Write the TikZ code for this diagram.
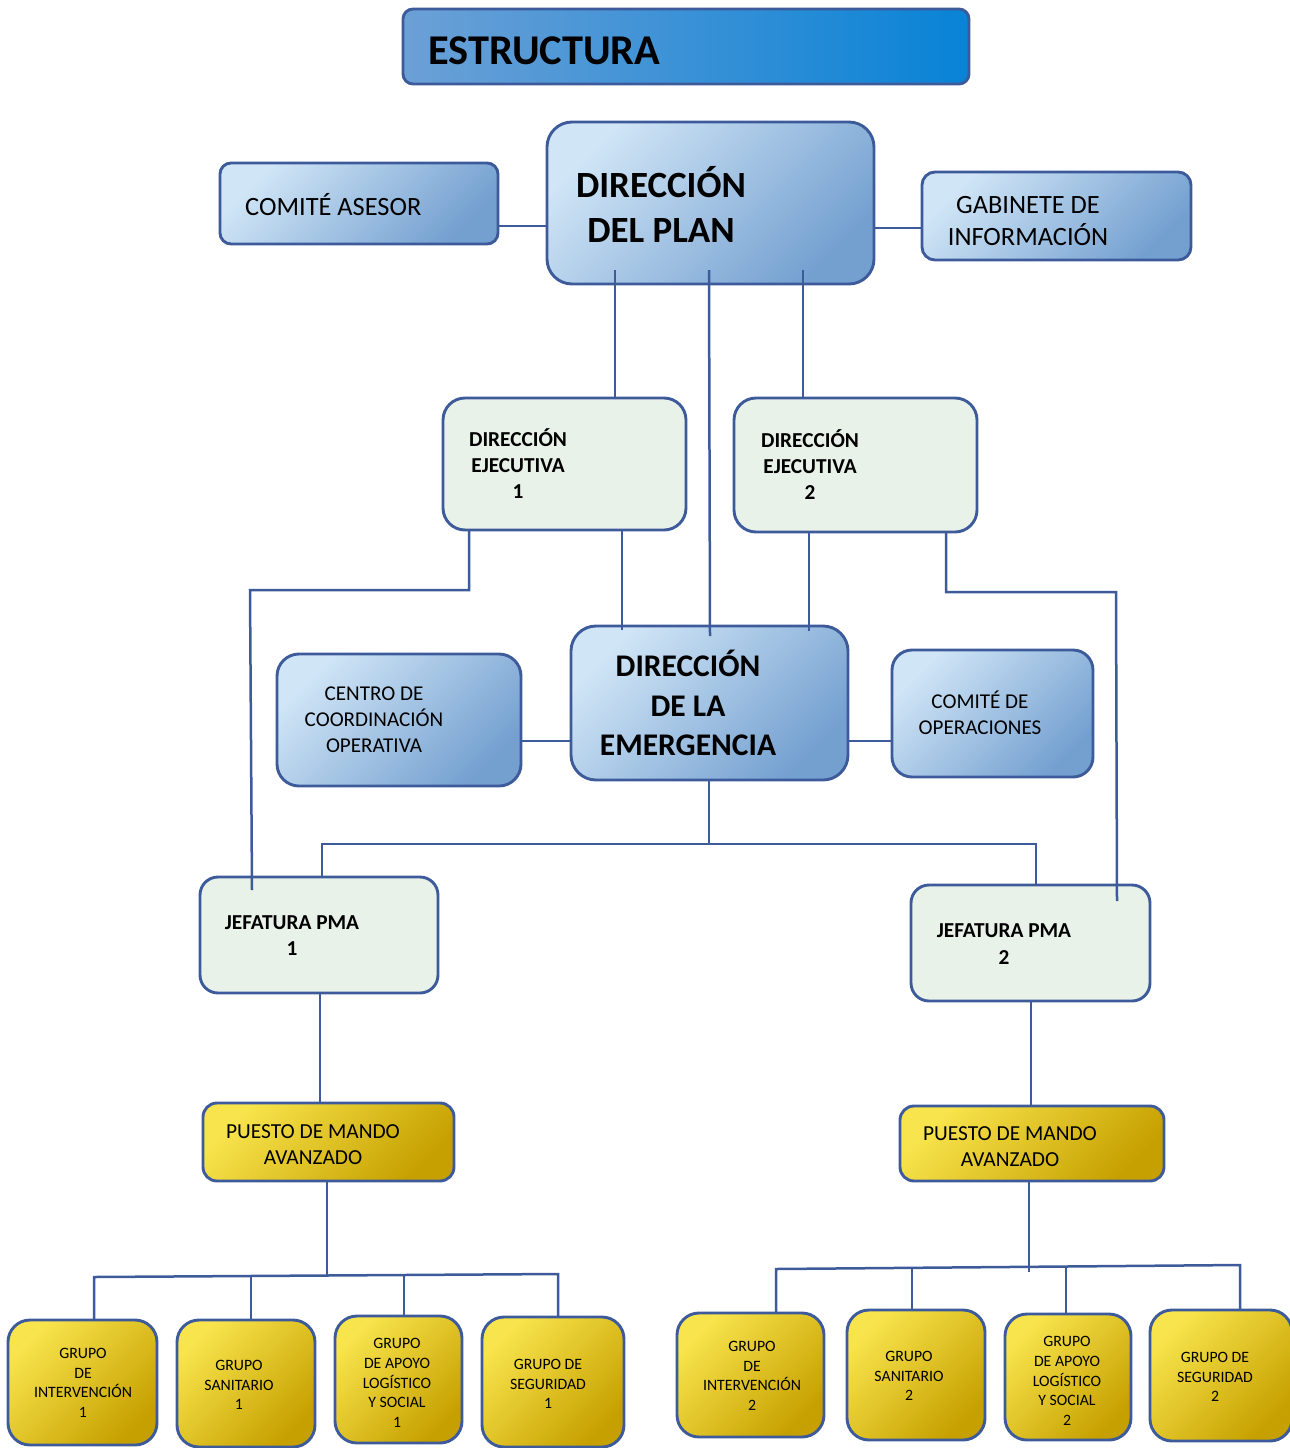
\documentclass[tikz,border=0pt]{standalone}
\usepackage{fontspec}
\setmainfont{Carlito}
\usetikzlibrary{calc}
\definecolor{bordercol}{HTML}{3D5B9B}
\definecolor{blueL}{HTML}{D0E5F6}
\definecolor{blueD}{HTML}{74A0D0}
\definecolor{titleL}{HTML}{6CA0D6}
\definecolor{titleR}{HTML}{0883D6}
\definecolor{greenF}{HTML}{E9F2E8}
\definecolor{yelL}{HTML}{F8E44C}
\definecolor{yelD}{HTML}{C6A000}
\newcommand\mybox[6]{\node[#1, minimum width={(#5-#3)*1pt}, minimum height={(#6-#4)*1pt}] (#2) at ({(#3+#5)/2},{(#4+#6)/2}) {};}
\tikzset{
  box/.style={draw=bordercol, line width=2.9pt, inner sep=0pt, outer sep=0pt, rectangle},
  bluebox/.style={box, top color=blueL, bottom color=blueD, shading angle=45},
  greenbox/.style={box, fill=greenF},
  yellowbox/.style={box, top color=yelL, bottom color=yelD, shading angle=45},
  titlebox/.style={box, left color=titleL, right color=titleR, rounded corners=10pt},
  conn/.style={draw=bordercol, line width=2.5pt},
  txt/.style={inner sep=0pt, align=center, text=black},
}
\begin{document}
\begin{tikzpicture}[x=1pt,y=-1pt]
\useasboundingbox (0,0) rectangle (1290,1448);
% boxes
\mybox{titlebox}{title}{403}{9}{969}{84}
\mybox{bluebox,rounded corners=25pt}{plan}{547}{122}{874}{284}
\mybox{bluebox,rounded corners=11pt}{asesor}{220}{163}{498}{244}
\mybox{bluebox,rounded corners=13pt}{gab}{922}{172}{1191}{260}
\mybox{greenbox,rounded corners=22pt}{ej1}{443}{398}{686}{530}
\mybox{greenbox,rounded corners=22pt}{ej2}{734}{398}{977}{532}
\mybox{bluebox,rounded corners=25pt}{emer}{571}{626}{848}{780}
\mybox{bluebox,rounded corners=22pt}{cco}{277}{654}{521}{786}
\mybox{bluebox,rounded corners=20pt}{cop}{892}{650}{1093}{777}
\mybox{greenbox,rounded corners=18pt}{jef1}{200}{877}{438}{993}
\mybox{greenbox,rounded corners=18pt}{jef2}{911}{885}{1150}{1001}
\mybox{yellowbox,rounded corners=14pt}{pma1}{203}{1103}{454}{1181}
\mybox{yellowbox,rounded corners=14pt}{pma2}{900}{1106}{1164}{1181}
\mybox{yellowbox,rounded corners=22pt}{g1}{8}{1320}{157}{1445}
\mybox{yellowbox,rounded corners=22pt}{g2}{177}{1320}{315}{1447}
\mybox{yellowbox,rounded corners=22pt}{g3}{335}{1316}{462}{1443}
\mybox{yellowbox,rounded corners=22pt}{g4}{482}{1317}{624}{1447}
\mybox{yellowbox,rounded corners=22pt}{g5}{677}{1313}{824}{1437}
\mybox{yellowbox,rounded corners=22pt}{g6}{847}{1310}{985}{1440}
\mybox{yellowbox,rounded corners=22pt}{g7}{1005}{1314}{1131}{1440}
\mybox{yellowbox,rounded corners=22pt}{g8}{1150}{1310}{1292}{1441}
% texts
\node[txt,anchor=west,font=\fontsize{42.4}{42}\selectfont\bfseries] (tTitle) at (428,51) {ESTRUCTURA};
\node[txt,font=\fontsize{37}{45}\selectfont\bfseries] (tPlan) at (661,204) {DIRECCIÓN\\DEL PLAN};
\node[txt,anchor=west,font=\fontsize{26.4}{26}\selectfont] (tAsesor) at (245,205) {COMITÉ ASESOR};
\node[txt,font=\fontsize{26.4}{32}\selectfont] (tGab) at (1028,221) {GABINETE DE\\INFORMACIÓN};
\node[txt,font=\fontsize{21.3}{26}\selectfont\bfseries] (tEj1) at (518,464) {DIRECCIÓN\\EJECUTIVA\\1};
\node[txt,font=\fontsize{21.3}{26}\selectfont\bfseries] (tEj2) at (810,465) {DIRECCIÓN\\EJECUTIVA\\2};
\node[txt,font=\fontsize{31.5}{39.5}\selectfont\bfseries] (tEmer) at (688,703) {DIRECCIÓN\\DE LA\\EMERGENCIA};
\node[txt,font=\fontsize{21.1}{26}\selectfont] (tCco) at (374,720) {CENTRO DE\\COORDINACIÓN\\OPERATIVA};
\node[txt,font=\fontsize{21.1}{26}\selectfont] (tCop) at (980,713) {COMITÉ DE\\OPERACIONES};
\node[txt,font=\fontsize{21.3}{26}\selectfont\bfseries] (tJef1) at (292,936) {JEFATURA PMA\\1};
\node[txt,font=\fontsize{21.3}{27}\selectfont\bfseries] (tJef2) at (1004,944) {JEFATURA PMA\\2};
\node[txt,font=\fontsize{21.4}{26}\selectfont] (tPma1) at (313,1145) {PUESTO DE MANDO\\AVANZADO};
\node[txt,font=\fontsize{21.4}{26}\selectfont] (tPma2) at (1010,1147) {PUESTO DE MANDO\\AVANZADO};
\tikzset{gtxt/.style={txt,font=\fontsize{15.8}{19.7}\selectfont}}
\node[gtxt] (tG1) at (83,1383) {GRUPO\\DE\\INTERVENCIÓN\\1};
\node[gtxt] (tG2) at (239,1385) {GRUPO\\SANITARIO\\1};
\node[gtxt] (tG3) at (397,1383) {GRUPO\\DE APOYO\\LOGÍSTICO\\Y SOCIAL\\1};
\node[gtxt] (tG4) at (548,1384) {GRUPO DE\\SEGURIDAD\\1};
\node[gtxt] (tG5) at (752,1376) {GRUPO\\DE\\INTERVENCIÓN\\2};
\node[gtxt] (tG6) at (909,1376) {GRUPO\\SANITARIO\\2};
\node[gtxt] (tG7) at (1067,1381) {GRUPO\\DE APOYO\\LOGÍSTICO\\Y SOCIAL\\2};
\node[gtxt] (tG8) at (1215,1377) {GRUPO DE\\SEGURIDAD\\2};
% connectors
\draw[conn] (asesor.east |- 0,226) -- (plan.west |- 0,226);
\draw[conn] (plan.east |- 0,228) -- (gab.west |- 0,228);
\draw[conn] ($(615,0 |- plan.south)+(0,-14)$) -- (615,0 |- ej1.north);
\draw[conn] ($(709,0 |- plan.south)+(0,-14)$) -- ($(710,0 |- emer.north)+(0,10)$);
\draw[conn] ($(803,0 |- plan.south)+(0,-14)$) -- (803,0 |- ej2.north);
\draw[conn] (622,0 |- ej1.south) -- ($(622,0 |- emer.north)+(0,4)$);
\draw[conn] (809,0 |- ej2.south) -- ($(809,0 |- emer.north)+(0,5)$);
\draw[conn] (469,0 |- ej1.south) -- (469,590) -- (250,590) -- ($(252,0 |- jef1.north)+(0,13)$);
\draw[conn] (946,0 |- ej2.south) -- (946,592) -- (1116,592) -- ($(1117,0 |- jef2.north)+(0,16)$);
\draw[conn] (cco.east |- 0,741) -- (emer.west |- 0,741);
\draw[conn] (emer.east |- 0,741) -- (cop.west |- 0,741);
\coordinate (busA) at (709,844);
\draw[conn] (709,0 |- emer.south) -- (busA);
\draw[conn] (322,0 |- jef1.north) -- (322,844) -- (1036,844) -- (1036,0 |- jef2.north);
\draw[conn] (320,0 |- jef1.south) -- (320,0 |- pma1.north);
\draw[conn] (1031,0 |- jef2.south) -- (1031,0 |- pma2.north);
\coordinate (busB) at (327,1276);
\draw[conn] (327,0 |- pma1.south) -- (busB);
\draw[conn] (94,0 |- g1.north) -- (94,1277) -- (558,1274) -- (558,0 |- g4.north);
\draw[conn] (251,1277) -- (251,0 |- g2.north);
\draw[conn] (404,1275) -- (404,0 |- g3.north);
\coordinate (busC) at (1029,1272);
\draw[conn] (1029,0 |- pma2.south) -- (busC);
\draw[conn] (776,0 |- g5.north) -- (776,1269) -- (1240,1265) -- (1240,0 |- g8.north);
\draw[conn] (912,1268) -- (912,0 |- g6.north);
\draw[conn] (1066,1267) -- (1066,0 |- g7.north);
\end{tikzpicture}
\end{document}
